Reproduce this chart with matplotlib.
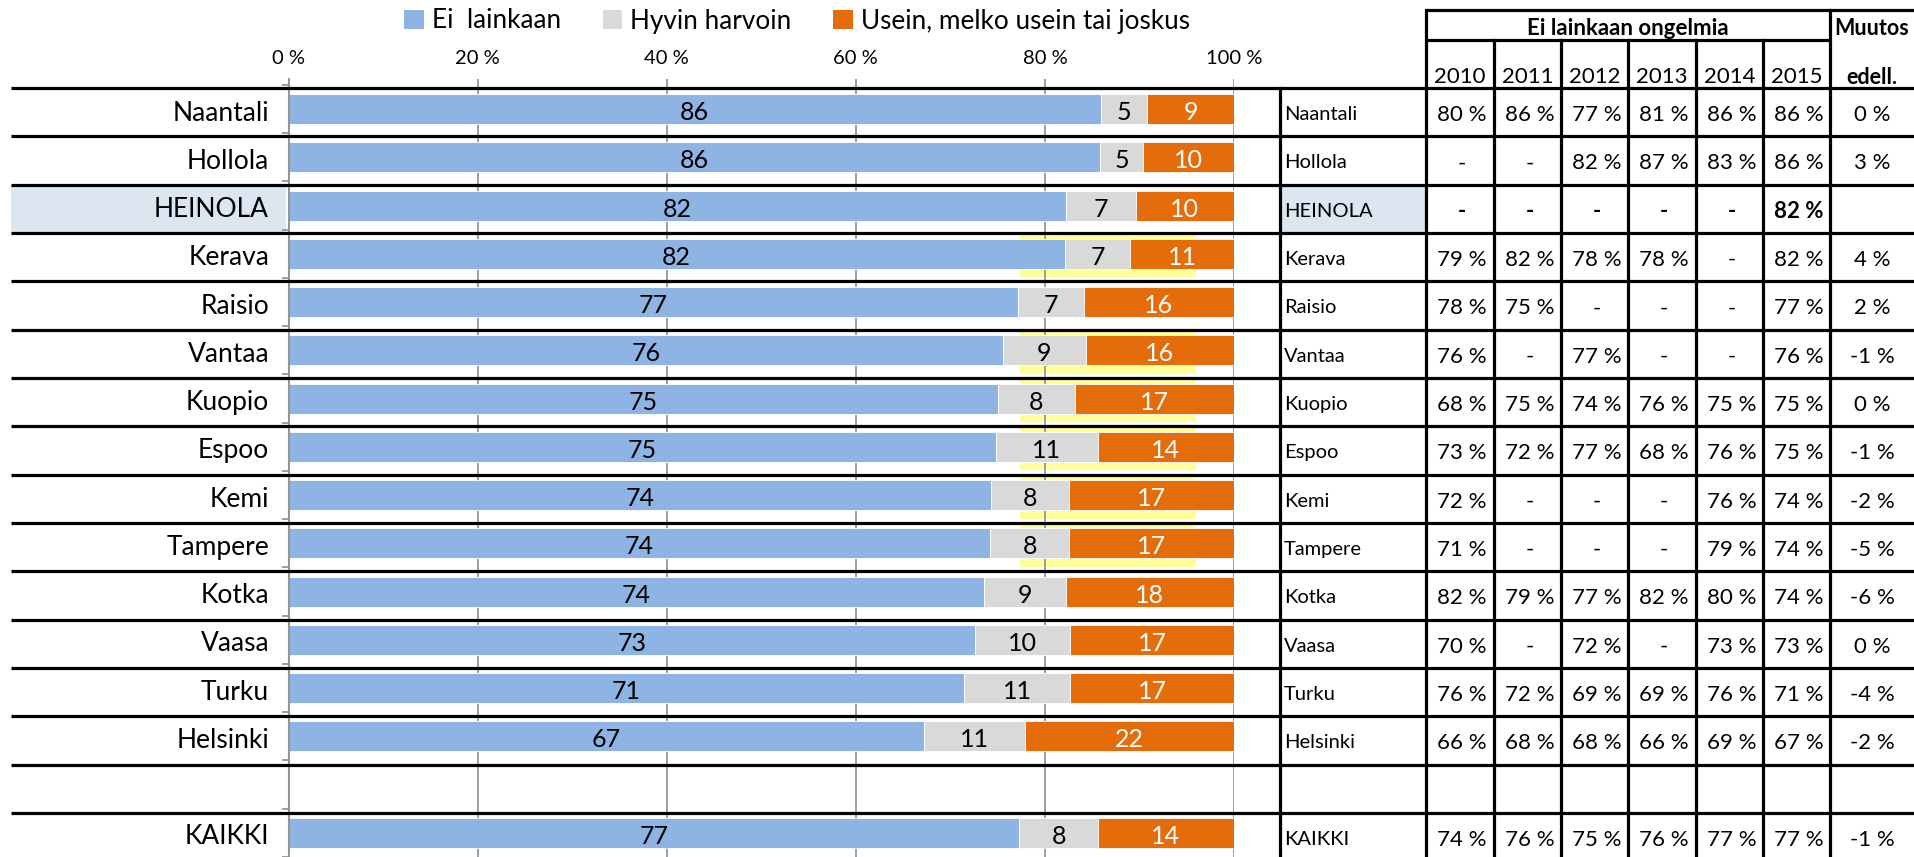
import numpy as np
import matplotlib
matplotlib.use('Agg')
import matplotlib.pyplot as plt
from matplotlib.patches import Patch, Rectangle

plt.rcParams['font.family'] = ['Lato', 'DejaVu Sans']

# ---------------- data ----------------
nan = np.nan
cities = ['Naantali', 'Hollola', 'HEINOLA', 'Kerava', 'Raisio', 'Vantaa', 'Kuopio',
          'Espoo', 'Kemi', 'Tampere', 'Kotka', 'Vaasa', 'Turku', 'Helsinki', '', 'KAIKKI']
ei_lainkaan = [85.9, 85.8, 82.2, 82.1, 77.2, 75.6, 75.0, 74.8, 74.3, 74.2, 73.6, 72.6, 71.4, 67.2, nan, 77.3]
hyvin_harvoin = [4.9, 4.6, 7.4, 6.9, 6.9, 8.7, 8.2, 10.8, 8.3, 8.4, 8.6, 10.1, 11.3, 10.7, nan, 8.3]
usein = [9.2, 9.6, 10.4, 11.0, 15.9, 15.7, 16.8, 14.4, 17.4, 17.4, 17.8, 17.3, 17.3, 22.1, nan, 14.4]
series_names = ['Ei  lainkaan', 'Hyvin harvoin', 'Usein, melko usein tai joskus']
series_colors = ['#8EB4E3', '#D9D9D9', '#E46C0A']
label_colors = ['#000000', '#000000', '#FFFFFF']
xticks = [0, 20, 40, 60, 80, 100]

highlight_city = 'HEINOLA'
yellow_cities = ['Kerava', 'Vantaa', 'Kuopio', 'Espoo', 'Kemi', 'Tampere']
yellow_range = (77.4, 96.0)

years = ['2010', '2011', '2012', '2013', '2014', '2015']
# None = '-', table rows (same order as cities); blank row has no values
y2010 = [80, None, None, 79, 78, 76, 68, 73, 72, 71, 82, 70, 76, 66, 'blank', 74]
y2011 = [86, None, None, 82, 75, None, 75, 72, None, None, 79, None, 72, 68, 'blank', 76]
y2012 = [77, 82, None, 78, None, 77, 74, 77, None, None, 77, 72, 69, 68, 'blank', 75]
y2013 = [81, 87, None, 78, None, None, 76, 68, None, None, 82, None, 69, 66, 'blank', 76]
y2014 = [86, 83, None, None, None, None, 75, 76, 76, 79, 80, 73, 76, 69, 'blank', 77]
y2015 = [86, 86, 82, 82, 77, 76, 75, 75, 74, 74, 74, 73, 71, 67, 'blank', 77]
muutos = [0, 3, 'blank', 4, 2, -1, 0, -1, -2, -5, -6, 0, -4, -2, 'blank', -1]
table_title = 'Ei lainkaan ongelmia'
muutos_title = ['Muutos', 'edell.']

# ---------------- layout (pixels) ----------------
W, H = 1914, 857
X0, X100 = 288.5, 1234.0
LINE0, ROW = 88.0, 48.33
CAT_OFF = 3.0
AX_TOP, AX_BOT = 79.0, 857.0
LEFT_EDGE = 11
COLS = [1280, 1426, 1494, 1561, 1628, 1696, 1763, 1830, 1914]
TOP_Y, HEAD_Y = 10, 40
LINE_C = '#000000'
LW = 2.3

fig = plt.figure(figsize=(W / 100, H / 100), dpi=100)
n = len(cities)

# underlay for cell highlights
under = fig.add_axes([0, 0, 1, 1], zorder=0)
under.set_xlim(0, W); under.set_ylim(H, 0); under.axis('off')
hi = cities.index(highlight_city)
y_top_hi = LINE0 + ROW * hi
under.add_patch(Rectangle((LEFT_EDGE, y_top_hi), X0 - 3 - LEFT_EDGE, ROW, color='#DCE6F1', lw=0))
under.add_patch(Rectangle((COLS[0], y_top_hi), COLS[1] - COLS[0], ROW, color='#DCE6F1', lw=0))

# bar axes
c0 = LINE0 - CAT_OFF + ROW / 2  # pixel of category 0 center
ax = fig.add_axes([X0 / W, 1 - AX_BOT / H, (X100 - X0) / W, (AX_BOT - AX_TOP) / H], zorder=1)
ax.set_facecolor('none')
ax.set_xlim(0, 100)
ax.set_ylim((AX_BOT - c0) / ROW, (AX_TOP - c0) / ROW)

ypos = np.arange(n)
vals = [np.array(ei_lainkaan), np.array(hyvin_harvoin), np.array(usein)]
valid = ~np.isnan(vals[0])
left = np.zeros(n)
for v, col, lc in zip(vals, series_colors, label_colors):
    bars = ax.barh(ypos[valid], v[valid], left=left[valid], height=0.62, color=col,
                   edgecolor='white', linewidth=0.6, zorder=2)
    for yy, l, w in zip(ypos[valid], left[valid], v[valid]):
        ax.text(l + w / 2, yy + 0.03, f'{w:.0f}', ha='center', va='center_baseline', fontsize=18,
                color=lc, zorder=3)
    left = left + np.nan_to_num(v)

for c in yellow_cities:
    i = cities.index(c)
    ax.add_patch(Rectangle((yellow_range[0], i - 0.5 + CAT_OFF / ROW + 0.03), yellow_range[1] - yellow_range[0],
                           1 - 5 / ROW, color='#FFFF99', lw=0, zorder=0.3))

ax.set_xticks(xticks)
ax.set_xticklabels([f'{t} %' for t in xticks], fontsize=14.5)
ax.xaxis.set_ticks_position('top')
ax.tick_params(axis='x', length=0, pad=9)
ax.grid(axis='x', color='#969696', lw=1.3, zorder=0.5)
ax.set_axisbelow(True)
ax.set_yticks(ypos + 0.03)
ax.set_yticklabels(cities, fontsize=19)
ax.tick_params(axis='y', length=0, pad=14)
ax.set_yticks(np.arange(n + 1) - 0.5, minor=True)
ax.tick_params(axis='y', which='minor', length=5, color='#969696', width=1.3)
for s in ['top', 'right', 'bottom']:
    ax.spines[s].set_visible(False)
ax.spines['left'].set_color('#969696')
ax.spines['left'].set_linewidth(1.5)

# overlay: sheet borders & table
ov = fig.add_axes([0, 0, 1, 1], zorder=2)
ov.set_xlim(0, W); ov.set_ylim(H, 0); ov.axis('off')
for k in range(n + 1):
    y = LINE0 + ROW * k
    ov.plot([LEFT_EDGE, W], [y, y], color=LINE_C, lw=LW, solid_capstyle='butt')
ov.plot([COLS[1], W], [TOP_Y, TOP_Y], color=LINE_C, lw=LW, solid_capstyle='butt')
ov.plot([COLS[1], COLS[7]], [HEAD_Y, HEAD_Y], color=LINE_C, lw=LW, solid_capstyle='butt')
ov.plot([COLS[0], COLS[0]], [LINE0, H], color=LINE_C, lw=LW)
for x in (COLS[1], COLS[7]):
    ov.plot([x, x], [TOP_Y, H], color=LINE_C, lw=LW)
for x in COLS[2:7]:
    ov.plot([x, x], [HEAD_Y, H], color=LINE_C, lw=LW)

ov.text((COLS[1] + COLS[7]) / 2, (TOP_Y + HEAD_Y) / 2 + 1, table_title, ha='center', va='center_baseline',
        fontsize=16, fontweight='bold')
ov.text((COLS[7] + COLS[8]) / 2, (TOP_Y + HEAD_Y) / 2 + 1, muutos_title[0], ha='center', va='center_baseline',
        fontsize=15.5, fontweight='bold')
yr_y = 75
for j, yr in enumerate(years):
    ov.text((COLS[j + 1] + COLS[j + 2]) / 2, yr_y, yr, ha='center', va='center_baseline', fontsize=16)
ov.text((COLS[7] + COLS[8]) / 2, yr_y, muutos_title[1], ha='center', va='center_baseline', fontsize=15.5,
        fontweight='bold')

table_cols = [y2010, y2011, y2012, y2013, y2014, y2015]
for i, city in enumerate(cities):
    yc = LINE0 + ROW * i + ROW / 2 + 1
    bold = 'bold' if city == highlight_city else 'normal'
    if city:
        ov.text(COLS[0] + 4, yc, city, ha='left', va='center_baseline', fontsize=14.5)
    for j, colv in enumerate(table_cols):
        v = colv[i]
        if v == 'blank':
            continue
        s = '-' if v is None else f'{v} %'
        ov.text((COLS[j + 1] + COLS[j + 2]) / 2 + 2, yc, s, ha='center', va='center_baseline', fontsize=16,
                fontweight=bold)
    m = muutos[i]
    if m != 'blank':
        ov.text((COLS[7] + COLS[8]) / 2, yc, f'{m} %', ha='center', va='center_baseline', fontsize=16)

handles = [Patch(facecolor=c, edgecolor='none') for c in series_colors]
fig.legend(handles, series_names, loc='center', bbox_to_anchor=(797 / W, 1 - 21 / H), ncol=3,
           frameon=False, fontsize=18.8, handlelength=0.75, handleheight=0.75, handletextpad=0.3,
           columnspacing=1.6)

fig.savefig('out.png', dpi=100)
